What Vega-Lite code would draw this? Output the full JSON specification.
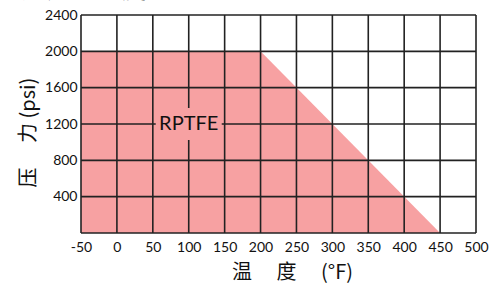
{
  "$schema": "https://vega.github.io/schema/vega-lite/v6.json",
  "width": 395,
  "height": 218,
  "autosize": {"type": "none"},
  "padding": {"left": 81, "top": 15, "right": 20, "bottom": 55},
  "background": "white",
  "title": {
    "text": "压力－温度",
    "anchor": "start",
    "font": "Noto Sans CJK SC",
    "fontSize": 25,
    "fontWeight": "normal",
    "color": "#111",
    "baseline": "alphabetic",
    "dx": 3,
    "dy": 15,
    "offset": 0
  },
  "config": {
    "view": {"stroke": null},
    "axis": {
      "labelFont": "Lato",
      "labelFontSize": 14,
      "labelColor": "#111",
      "titleFont": "Noto Sans CJK SC",
      "titleFontSize": 20,
      "titleFontWeight": "normal",
      "titleColor": "#111",
      "tickSize": 0,
      "domain": false,
      "grid": false
    }
  },
  "datasets": {
    "zone": [
      {"t": -50, "p": 2000},
      {"t": 200, "p": 2000},
      {"t": 450, "p": 0}
    ],
    "vgrid": [
      {"t": -50}, {"t": 0}, {"t": 50}, {"t": 100}, {"t": 150}, {"t": 200},
      {"t": 250}, {"t": 300}, {"t": 350}, {"t": 400}, {"t": 450}, {"t": 500}
    ],
    "hgrid": [
      {"p": 0}, {"p": 400}, {"p": 800}, {"p": 1200}, {"p": 1600}, {"p": 2000}, {"p": 2400}
    ],
    "label": [
      {"t": 100, "p": 1200, "name": "RPTFE"}
    ]
  },
  "layer": [
    {
      "data": {"name": "zone"},
      "mark": {"type": "area", "color": "#f7a1a2", "opacity": 1},
      "encoding": {
        "x": {
          "field": "t", "type": "quantitative",
          "scale": {"domain": [-50, 500], "nice": false, "zero": false},
          "axis": {
            "values": [-50, 0, 50, 100, 150, 200, 250, 300, 350, 400, 450, 500],
            "labelOverlap": false, "labelFlush": false, "labelExpr": "'' + datum.value",
            "labelPadding": 7, "title": "温　   度　 (°F)", "titlePadding": 8, "titleX": 211
          }
        },
        "y": {
          "field": "p", "type": "quantitative",
          "scale": {"domain": [0, 2400], "nice": false},
          "axis": {
            "values": [400, 800, 1200, 1600, 2000, 2400],
            "labelOverlap": false, "labelExpr": "'' + datum.value",
            "labelPadding": 4, "title": "压　  力 (psi)", "titlePadding": 6, "titleY": 117
          }
        }
      }
    },
    {
      "data": {"name": "vgrid"},
      "mark": {"type": "rule", "color": "#222", "strokeWidth": 1.6},
      "encoding": {
        "x": {
          "field": "t", "type": "quantitative",
          "axis": {
            "values": [-50, 0, 50, 100, 150, 200, 250, 300, 350, 400, 450, 500],
            "labelOverlap": false, "labelFlush": false, "labelExpr": "'' + datum.value",
            "labelPadding": 7, "title": "温　   度　 (°F)", "titlePadding": 8, "titleX": 211
          }
        }
      }
    },
    {
      "data": {"name": "hgrid"},
      "mark": {"type": "rule", "color": "#222", "strokeWidth": 1.6},
      "encoding": {
        "y": {
          "field": "p", "type": "quantitative",
          "axis": {
            "values": [400, 800, 1200, 1600, 2000, 2400],
            "labelOverlap": false, "labelExpr": "'' + datum.value",
            "labelPadding": 4, "title": "压　  力 (psi)", "titlePadding": 6, "titleY": 117
          }
        }
      }
    },
    {
      "data": {"name": "label"},
      "mark": {
        "type": "point",
        "shape": "M -1 -0.485 L 1 -0.485 L 1 0.485 L -1 0.485 Z",
        "size": 4356,
        "filled": true,
        "color": "#f7a1a2",
        "opacity": 1,
        "strokeWidth": 0
      },
      "encoding": {
        "x": {
          "field": "t", "type": "quantitative",
          "axis": {
            "values": [-50, 0, 50, 100, 150, 200, 250, 300, 350, 400, 450, 500],
            "labelOverlap": false, "labelFlush": false, "labelExpr": "'' + datum.value",
            "labelPadding": 7, "title": "温　   度　 (°F)", "titlePadding": 8, "titleX": 211
          }
        },
        "y": {
          "field": "p", "type": "quantitative",
          "axis": {
            "values": [400, 800, 1200, 1600, 2000, 2400],
            "labelOverlap": false, "labelExpr": "'' + datum.value",
            "labelPadding": 4, "title": "压　  力 (psi)", "titlePadding": 6, "titleY": 117
          }
        }
      }
    },
    {
      "data": {"name": "label"},
      "mark": {"type": "text", "font": "Lato", "fontSize": 20, "color": "#111", "baseline": "middle", "align": "center"},
      "encoding": {
        "x": {
          "field": "t", "type": "quantitative",
          "axis": {
            "values": [-50, 0, 50, 100, 150, 200, 250, 300, 350, 400, 450, 500],
            "labelOverlap": false, "labelFlush": false, "labelExpr": "'' + datum.value",
            "labelPadding": 7, "title": "温　   度　 (°F)", "titlePadding": 8, "titleX": 211
          }
        },
        "y": {
          "field": "p", "type": "quantitative",
          "axis": {
            "values": [400, 800, 1200, 1600, 2000, 2400],
            "labelOverlap": false, "labelExpr": "'' + datum.value",
            "labelPadding": 4, "title": "压　  力 (psi)", "titlePadding": 6, "titleY": 117
          }
        },
        "text": {"field": "name"}
      }
    }
  ]
}
